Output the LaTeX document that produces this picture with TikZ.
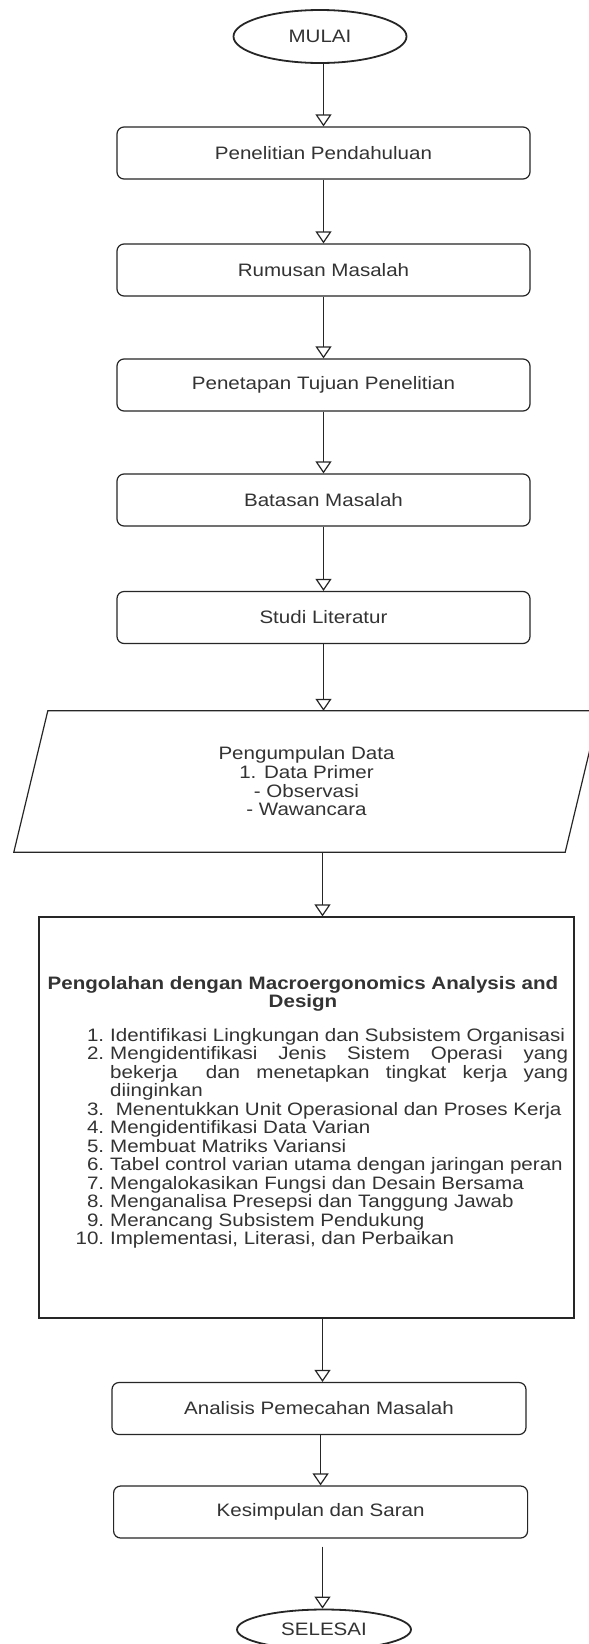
\documentclass[tikz,border=0pt]{standalone}
\usepackage{fontspec}
\setmainfont{Liberation Sans}[FakeStretch=1.142]
\usetikzlibrary{arrows.meta,shapes.geometric,calc}
\begin{document}
\begin{tikzpicture}[x=1pt,y=-1pt,
  every node/.style={font=\fontsize{18}{18.3}\selectfont, text=black!80},
  term/.style={ellipse, draw=black!85, line width=1.8pt, minimum width=173pt, minimum height=53pt, inner sep=0pt},
  procbox/.style={rectangle, rounded corners=7pt, draw=black!85, line width=1.2pt, minimum width=413pt, minimum height=52pt, inner sep=0pt},
  boxline/.style={draw=black!85, line width=1.2pt},
  flow/.style={draw=black!85, line width=1.2pt, -{Triangle[open, length=12pt, width=16pt]}},
]
\path[fill=white] (0,0) rectangle (589,1644);
\useasboundingbox (0,0) rectangle (589,1644);

\node[term] (mulai) at (320,36.5) {MULAI};
\node[procbox] (b1) at (323.5,153) {Penelitian Pendahuluan};
\node[procbox] (b2) at (323.5,270) {Rumusan Masalah};
\node[procbox] (b3) at (323.5,385) {Penetapan Tujuan Penelitian};
\node[procbox] (b4) at (323.5,500) {Batasan Masalah};
\node[procbox] (b5) at (323.5,617.5) {Studi Literatur};

\node[minimum width=585pt, minimum height=141pt, inner sep=0pt, align=center, font=\fontsize{18}{18.7}\selectfont] (pg) at (306.5,781.5) {Pengumpulan Data\\1. Data Primer\\- Observasi\\- Wawancara};
\draw[boxline] (pg.south west) -- ($(pg.north west)+(34,0)$) -- (pg.north east) -- ($(pg.south east)+(-34,0)$) -- cycle;

\node[boxline, minimum width=535pt, minimum height=401pt, inner sep=0pt] (po) at (306.5,1117.5) {};
\node[anchor=base, inner sep=0pt, font=\bfseries\fontsize{18}{17.3}\selectfont] (title) at (303,989) {\begin{tabular}[t]{@{}c@{}}Pengolahan dengan Macroergonomics Analysis and\\Design\end{tabular}};
\node[anchor=base west, inner sep=0pt] (list) at (75.4,1041) {\begin{tabular}[t]{@{}r@{\hspace{6pt}}l@{}}
1. & Identifikasi Lingkungan dan Subsistem Organisasi\\
2. & \makebox[458pt][s]{Mengidentifikasi Jenis Sistem Operasi yang}\\
 & \makebox[458pt][s]{bekerja\hspace{12pt} dan menetapkan tingkat kerja yang}\\
 & diinginkan\\
3. & \ Menentukkan Unit Operasional dan Proses Kerja\\
4. & Mengidentifikasi Data Varian\\
5. & Membuat Matriks Variansi\\
6. & Tabel control varian utama dengan jaringan peran\\
7. & Mengalokasikan Fungsi dan Desain Bersama\\
8. & Menganalisa Presepsi dan Tanggung Jawab\\
9. & Merancang Subsistem Pendukung\\
10. & Implementasi, Literasi, dan Perbaikan
\end{tabular}};

\node[procbox, minimum width=414pt] (b6) at (319,1408.5) {Analisis Pemecahan Masalah};
\node[procbox, minimum width=414pt] (b7) at (320.6,1512) {Kesimpulan dan Saran};
\node[term, minimum width=174pt, minimum height=40pt] (selesai) at (324,1629.5) {SELESAI};

\coordinate (ax) at (322.5,0);
\draw[flow] (mulai.south -| b1.north) -- (b1.north);
\draw[flow] (b1.south) -- (b2.north);
\draw[flow] (b2.south) -- (b3.north);
\draw[flow] (b3.south) -- (b4.north);
\draw[flow] (b4.south) -- (b5.north);
\draw[flow] (b5.south) -- (b5.south |- pg.north);
\draw[flow] (pg.south -| ax) -- (po.north -| ax);
\draw[flow] (po.south -| ax) -- (b6.north -| ax);
\draw[flow] (b6.south -| b7.north) -- (b7.north);
\draw[flow, shorten <=8pt] (b7.south -| ax) -- (selesai.north -| ax);
\end{tikzpicture}
\end{document}
